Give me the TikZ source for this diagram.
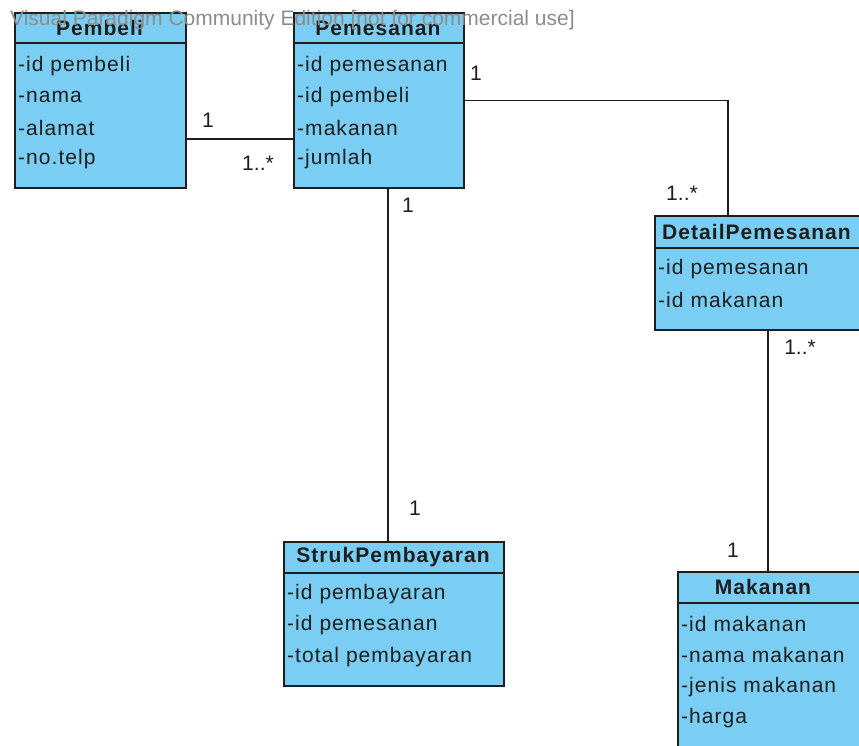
\documentclass[tikz,border=0pt]{standalone}
\usepackage{fontspec}
\setmainfont{Liberation Sans}
\definecolor{classfill}{RGB}{122,206,244}
\definecolor{classline}{RGB}{30,30,30}
\definecolor{marktext}{RGB}{140,140,140}
\newfontfamily\umlfont[LetterSpace=5]{Liberation Sans}
\tikzset{
  classbox/.style={draw=classline, fill=classfill, line width=1.6pt, rectangle,
    anchor=north west, inner sep=0pt},
  divider/.style={draw=classline, line width=1.6pt},
  classname/.style={font=\umlfont\fontsize{21}{21}\selectfont\bfseries, text=classline, inner sep=0pt},
  attr/.style={font=\umlfont\fontsize{21}{21}\selectfont, text=classline, anchor=west, inner sep=0pt},
  assoc/.style={draw=classline, line width=1.6pt},
  mult/.style={font=\fontsize{21}{21}\selectfont, text=classline, inner sep=0pt},
  watermark/.style={font=\fontsize{21}{21}\selectfont, text=marktext, anchor=west, inner sep=0pt}
}
\begin{document}
\begin{tikzpicture}[x=1pt, y=-1pt]
\useasboundingbox (0,0) rectangle (859,745);

% ---- class Pembeli ----
\node[classbox, minimum width=171pt, minimum height=175pt] (pembeli) at (14,12) {};
\draw[divider] (14,43) -- (185,43);
\node[classname] (pembeliN) at (99.5,28) {Pembeli};
\node[attr] (pembeliA1) at (18,66) {-id pembeli};
\node[attr] (pembeliA2) at (18,97) {-nama};
\node[attr] (pembeliA3) at (18,128) {-alamat};
\node[attr] (pembeliA4) at (18,159) {-no.telp};

% ---- class Pemesanan ----
\node[classbox, minimum width=170pt, minimum height=175pt] (pemesanan) at (293,12) {};
\draw[divider] (293,43) -- (463,43);
\node[classname] (pemesananN) at (378,28) {Pemesanan};
\node[attr] (pemesananA1) at (297,66) {-id pemesanan};
\node[attr] (pemesananA2) at (297,97) {-id pembeli};
\node[attr] (pemesananA3) at (297,128) {-makanan};
\node[attr] (pemesananA4) at (297,159) {-jumlah};

% ---- class DetailPemesanan (runs past the right edge) ----
\node[classbox, minimum width=212pt, minimum height=114pt] (detail) at (654,215) {};
\draw[divider] (654,248) -- (866,248);
\node[classname, anchor=west] (detailN) at (662,232) {DetailPemesanan};
\node[attr] (detailA1) at (658,269) {-id pemesanan};
\node[attr] (detailA2) at (658,300) {-id makanan};

% ---- class StrukPembayaran ----
\node[classbox, minimum width=220pt, minimum height=144pt] (struk) at (283,541) {};
\draw[divider] (283,573) -- (503,573);
\node[classname] (strukN) at (393,557) {StrukPembayaran};
\node[attr] (strukA1) at (287,594) {-id pembayaran};
\node[attr] (strukA2) at (287,625) {-id pemesanan};
\node[attr] (strukA3) at (287,657) {-total pembayaran};

% ---- class Makanan (runs past the bottom edge) ----
\node[classbox, minimum width=189pt, minimum height=189pt] (makanan) at (677,571) {};
\draw[divider] (677,603) -- (866,603);
\node[classname] (makananN) at (763,587) {Makanan};
\node[attr] (makananA1) at (681,624) {-id makanan};
\node[attr] (makananA2) at (681,655) {-nama makanan};
\node[attr] (makananA3) at (681,687) {-jenis makanan};
\node[attr] (makananA4) at (681,718) {-harga};

% ---- associations ----
\draw[assoc] ([yshift=-38.5pt]pembeli.east) -- ([yshift=-38.5pt]pemesanan.west);
\draw[assoc] (pemesanan.east) -| ([xshift=-33pt]detail.north);
\draw[assoc] ([xshift=9pt]pemesanan.south) -- ([xshift=9pt]pemesanan.south |- struk.north);
\draw[assoc] ([xshift=7pt]detail.south) -- ([xshift=7pt]detail.south |- makanan.north);

% ---- multiplicities ----
\node[mult] (m1) at (208,120) {1};
\node[mult] (m2) at (258,163) {1..*};
\node[mult] (m3) at (476,73) {1};
\node[mult] (m4) at (682,193) {1..*};
\node[mult] (m5) at (408,205) {1};
\node[mult] (m6) at (415,508) {1};
\node[mult] (m7) at (800,347) {1..*};
\node[mult] (m8) at (733,550) {1};

% ---- edition note across the top ----
\node[watermark] (note) at (10,20) {Visual Paradigm Community Edition [not for commercial use]};
\end{tikzpicture}
\end{document}
